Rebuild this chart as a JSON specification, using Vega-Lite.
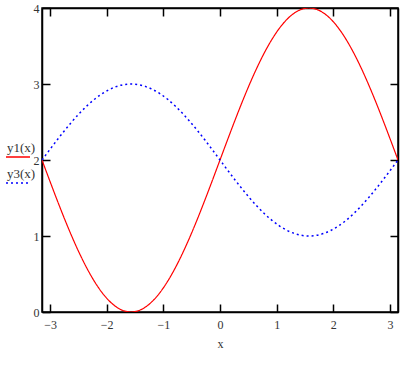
{
  "$schema": "https://vega.github.io/schema/vega-lite/v6.json",
  "width": 356,
  "height": 304,
  "autosize": {"type": "none"},
  "padding": {"left": 42, "top": 8, "right": 21, "bottom": 54},
  "config": {
    "view": {"stroke": "black", "strokeWidth": 1.5},
    "font": "Liberation Serif",
    "axis": {
      "grid": false,
      "domainColor": "black",
      "domainWidth": 1.5,
      "tickColor": "black",
      "tickWidth": 1.5,
      "tickSize": -8,
      "labelFont": "Liberation Serif",
      "labelFontSize": 12,
      "labelColor": "#333333",
      "titleFont": "Liberation Serif",
      "titleFontSize": 12,
      "titleFontWeight": "normal",
      "titleColor": "#333333"
    }
  },
  "data": {
    "values": [
      {"x": -3.1416, "y1": 2, "y3": 2},
      {"x": -3.0107, "y1": 1.7389, "y3": 2.1305},
      {"x": -2.8798, "y1": 1.4824, "y3": 2.2588},
      {"x": -2.7489, "y1": 1.2346, "y3": 2.3827},
      {"x": -2.618, "y1": 1.0, "y3": 2.5},
      {"x": -2.4871, "y1": 0.7825, "y3": 2.6088},
      {"x": -2.3562, "y1": 0.5858, "y3": 2.7071},
      {"x": -2.2253, "y1": 0.4133, "y3": 2.7934},
      {"x": -2.0944, "y1": 0.2679, "y3": 2.866},
      {"x": -1.9635, "y1": 0.1522, "y3": 2.9239},
      {"x": -1.8326, "y1": 0.0681, "y3": 2.9659},
      {"x": -1.7017, "y1": 0.0171, "y3": 2.9914},
      {"x": -1.5708, "y1": 0, "y3": 3},
      {"x": -1.4399, "y1": 0.0171, "y3": 2.9914},
      {"x": -1.309, "y1": 0.0681, "y3": 2.9659},
      {"x": -1.1781, "y1": 0.1522, "y3": 2.9239},
      {"x": -1.0472, "y1": 0.2679, "y3": 2.866},
      {"x": -0.9163, "y1": 0.4133, "y3": 2.7934},
      {"x": -0.7854, "y1": 0.5858, "y3": 2.7071},
      {"x": -0.6545, "y1": 0.7825, "y3": 2.6088},
      {"x": -0.5236, "y1": 1.0, "y3": 2.5},
      {"x": -0.3927, "y1": 1.2346, "y3": 2.3827},
      {"x": -0.2618, "y1": 1.4824, "y3": 2.2588},
      {"x": -0.1309, "y1": 1.7389, "y3": 2.1305},
      {"x": 0, "y1": 2, "y3": 2},
      {"x": 0.1309, "y1": 2.2611, "y3": 1.8695},
      {"x": 0.2618, "y1": 2.5176, "y3": 1.7412},
      {"x": 0.3927, "y1": 2.7654, "y3": 1.6173},
      {"x": 0.5236, "y1": 3.0, "y3": 1.5},
      {"x": 0.6545, "y1": 3.2175, "y3": 1.3912},
      {"x": 0.7854, "y1": 3.4142, "y3": 1.2929},
      {"x": 0.9163, "y1": 3.5867, "y3": 1.2066},
      {"x": 1.0472, "y1": 3.7321, "y3": 1.134},
      {"x": 1.1781, "y1": 3.8478, "y3": 1.0761},
      {"x": 1.309, "y1": 3.9319, "y3": 1.0341},
      {"x": 1.4399, "y1": 3.9829, "y3": 1.0086},
      {"x": 1.5708, "y1": 4, "y3": 1},
      {"x": 1.7017, "y1": 3.9829, "y3": 1.0086},
      {"x": 1.8326, "y1": 3.9319, "y3": 1.0341},
      {"x": 1.9635, "y1": 3.8478, "y3": 1.0761},
      {"x": 2.0944, "y1": 3.7321, "y3": 1.134},
      {"x": 2.2253, "y1": 3.5867, "y3": 1.2066},
      {"x": 2.3562, "y1": 3.4142, "y3": 1.2929},
      {"x": 2.4871, "y1": 3.2175, "y3": 1.3912},
      {"x": 2.618, "y1": 3.0, "y3": 1.5},
      {"x": 2.7489, "y1": 2.7654, "y3": 1.6173},
      {"x": 2.8798, "y1": 2.5176, "y3": 1.7412},
      {"x": 3.0107, "y1": 2.2611, "y3": 1.8695},
      {"x": 3.1416, "y1": 2, "y3": 2}
    ]
  },
  "transform": [{"fold": ["y1", "y3"], "as": ["s", "y"]}],
  "layer": [
    {
      "transform": [{"filter": "datum.s == 'y1'"}],
      "mark": {"type": "line", "strokeWidth": 1.2, "interpolate": "monotone", "clip": true},
      "encoding": {
        "x": {
          "field": "x", "type": "quantitative",
          "scale": {"domain": [-3.1416, 3.1416], "nice": false, "zero": false},
          "axis": {"orient": "bottom", "values": [-3, -2, -1, 0, 1, 2, 3], "title": "x", "labelPadding": 15, "titlePadding": 8}
        },
        "y": {
          "field": "y", "type": "quantitative",
          "scale": {"domain": [0, 4], "nice": false},
          "axis": {"orient": "left", "values": [0, 1, 2, 3, 4], "title": null, "labelPadding": 11}
        },
        "color": {
          "field": "s", "type": "nominal",
          "scale": {"domain": ["y1", "y3"], "range": ["#ff0000", "#0000ff"]},
          "legend": {"title": null, "orient": "none", "legendX": -37, "legendY": 127, "symbolType": "M -1 0.75 L 1 0.75", "symbolSize": 576, "symbolStrokeWidth": 1.5, "labelOffset": -24, "labelBaseline": "middle", "labelFont": "Liberation Serif", "labelFontSize": 13, "labelColor": "#333333", "labelExpr": "datum.label + '(x)'", "rowPadding": 1}
        },
        "strokeDash": {
          "field": "s", "type": "nominal",
          "scale": {"domain": ["y1", "y3"], "range": [[1, 0], [2, 3]]},
          "legend": {"title": null, "orient": "none", "legendX": -37, "legendY": 127, "symbolType": "M -1 0.75 L 1 0.75", "symbolSize": 576, "symbolStrokeWidth": 1.5, "labelOffset": -24, "labelBaseline": "middle", "labelFont": "Liberation Serif", "labelFontSize": 13, "labelColor": "#333333", "labelExpr": "datum.label + '(x)'", "rowPadding": 1}
        }
      }
    },
    {
      "transform": [{"filter": "datum.s == 'y3'"}],
      "mark": {"type": "line", "strokeWidth": 1.5, "interpolate": "monotone", "clip": true},
      "encoding": {
        "x": {
          "field": "x", "type": "quantitative",
          "axis": {"orient": "top", "values": [-3, -2, -1, 0, 1, 2, 3], "title": null, "labels": false}
        },
        "y": {
          "field": "y", "type": "quantitative",
          "axis": {"orient": "right", "values": [0, 1, 2, 3, 4], "title": null, "labels": false}
        },
        "color": {"field": "s", "type": "nominal"},
        "strokeDash": {"field": "s", "type": "nominal"}
      }
    }
  ],
  "resolve": {"axis": {"x": "independent", "y": "independent"}}
}
